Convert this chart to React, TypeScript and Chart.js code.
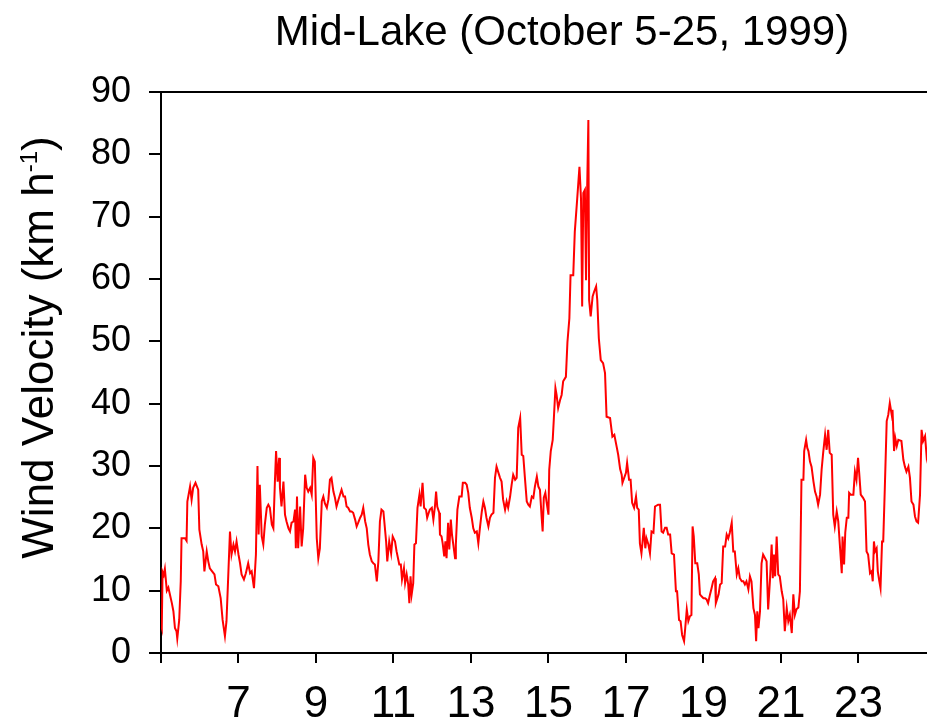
import React, { useEffect, useRef } from "react";
import { Chart, registerables } from "chart.js";

Chart.register(...registerables);

const chartTitle = "Mid-Lake (October 5-25, 1999)";
const yAxisLabelMain = "Wind Velocity (km h";
const yAxisLabelSup = "-1";
const yAxisLabelEnd = ")";

const xMin = 5;
const xMax = 24.77;
const xTickValues = [5, 7, 9, 11, 13, 15, 17, 19, 21, 23];
const xTickLabels = ["", "7", "9", "11", "13", "15", "17", "19", "21", "23"];
const yMin = 0;
const yMax = 90;
const yStep = 10;

// [day of October, wind velocity km/h]
const windSeries: [number, number][] = [
  [5.00, 4.5], [5.02, 4], [5.04, 13], [5.07, 12.5], [5.10, 13.5], [5.15, 10], [5.19, 10.5], [5.23, 9.4], [5.28, 8], [5.32, 6.7],
  [5.36, 4], [5.40, 3.5], [5.42, 2.3], [5.47, 5.3], [5.51, 11.5], [5.53, 18.4], [5.62, 18.4], [5.66, 18], [5.68, 24.3], [5.75, 26.7],
  [5.79, 24.6], [5.83, 26.5], [5.89, 27.3], [5.96, 26.2], [5.99, 19.8], [6.05, 17.4], [6.09, 16.3], [6.12, 13.1], [6.18, 16.3], [6.22, 14.7],
  [6.26, 13.6], [6.32, 13.1], [6.38, 12.6], [6.42, 11], [6.48, 10.7], [6.54, 8.8], [6.59, 5.3], [6.65, 2.7], [6.69, 5.1], [6.74, 13.1],
  [6.78, 19.5], [6.82, 15.8], [6.87, 17.4], [6.91, 16.3], [6.95, 17.9], [7.00, 15.8], [7.04, 14.4], [7.08, 12.6], [7.14, 11.8], [7.19, 12.8],
  [7.25, 14.4], [7.30, 12.8], [7.34, 13.1], [7.40, 10.4], [7.45, 15.8], [7.49, 30], [7.52, 19], [7.55, 27], [7.60, 18.7], [7.64, 17.4],
  [7.68, 20.6], [7.73, 23.3], [7.77, 23.8], [7.81, 23.3], [7.86, 20.6], [7.90, 20], [7.94, 27.5], [7.97, 32.4], [8.01, 27.5], [8.05, 31.3],
  [8.07, 26.5], [8.11, 23.5], [8.16, 27.5], [8.20, 22.2], [8.24, 21.1], [8.29, 20], [8.33, 19.5], [8.37, 20.9], [8.42, 21.1], [8.46, 23],
  [8.48, 16.8], [8.51, 25.1], [8.54, 16.8], [8.59, 23.5], [8.63, 17.1], [8.67, 20], [8.72, 28.6], [8.76, 26.5], [8.80, 25.9], [8.85, 26.5],
  [8.89, 25.4], [8.93, 31.3], [8.97, 30.7], [9.02, 18.4], [9.06, 15.2], [9.10, 16.8], [9.15, 24.3], [9.19, 25.1], [9.23, 24], [9.28, 23.3],
  [9.32, 24.6], [9.36, 27.8], [9.40, 28.1], [9.45, 25.9], [9.49, 24.9], [9.53, 23.5], [9.58, 24.6], [9.62, 25.4], [9.66, 26.2], [9.71, 25.1],
  [9.75, 25.1], [9.79, 23.5], [9.83, 23.3], [9.88, 22.7], [9.92, 22.7], [9.96, 22.5], [10.01, 21.4], [10.05, 20.3], [10.09, 20.9], [10.14, 21.7],
  [10.18, 22.2], [10.22, 23.3], [10.27, 21.1], [10.31, 20], [10.35, 17.4], [10.39, 15.8], [10.44, 14.7], [10.48, 14.4], [10.52, 14.2], [10.57, 11.5],
  [10.61, 14.7], [10.65, 21.1], [10.69, 23], [10.74, 22.7], [10.81, 17.9], [10.84, 14.7], [10.89, 17.9], [10.94, 16], [10.98, 18.7], [11.04, 17.9],
  [11.08, 16.3], [11.15, 14.2], [11.19, 14.2], [11.22, 11.8], [11.27, 13.6], [11.30, 11.2], [11.34, 12.6], [11.38, 11], [11.41, 8], [11.44, 12.3],
  [11.47, 9.4], [11.51, 11.2], [11.54, 17.4], [11.58, 17.6], [11.62, 23.3], [11.67, 25.4], [11.70, 23.5], [11.75, 27.3], [11.79, 23.3], [11.84, 23],
  [11.87, 21.7], [11.91, 22.5], [11.94, 23], [11.99, 23.3], [12.03, 21.4], [12.07, 23.5], [12.10, 25.9], [12.13, 23.5], [12.18, 22.5], [12.20, 19],
  [12.24, 18.7], [12.27, 17.6], [12.31, 15.5], [12.34, 17.9], [12.37, 15.2], [12.41, 20.9], [12.44, 16.6], [12.48, 21.4], [12.51, 19], [12.54, 17.6],
  [12.59, 15.2], [12.61, 17.4], [12.65, 23], [12.70, 25.1], [12.76, 25.1], [12.79, 27.3], [12.85, 27.3], [12.89, 27], [12.93, 25.7], [12.97, 23.3],
  [13.02, 21.7], [13.06, 20], [13.10, 19.3], [13.15, 19.5], [13.19, 17.6], [13.23, 20], [13.28, 22.7], [13.32, 24.3], [13.36, 23.3], [13.40, 21.7],
  [13.45, 20.3], [13.49, 21.7], [13.53, 22.2], [13.58, 22.5], [13.62, 28.1], [13.66, 29.9], [13.71, 28.9], [13.75, 28.1], [13.79, 27.5], [13.83, 24.6],
  [13.88, 23], [13.92, 24.3], [13.96, 23.3], [14.01, 25.1], [14.05, 27], [14.09, 28.6], [14.14, 27.8], [14.18, 28.1], [14.22, 36.1], [14.27, 37.7],
  [14.31, 31.8], [14.35, 31.6], [14.39, 28.3], [14.44, 24.3], [14.48, 23.8], [14.52, 23.5], [14.57, 25.1], [14.61, 24.9], [14.65, 26.7], [14.70, 28.3],
  [14.74, 26.7], [14.78, 26.2], [14.82, 22.2], [14.85, 19.5], [14.88, 24.9], [14.92, 25.7], [14.95, 24.3], [15.00, 22.2], [15.02, 29.4], [15.06, 32.4],
  [15.11, 34.2], [15.14, 37.7], [15.18, 42.5], [15.21, 41.4], [15.25, 39.3], [15.30, 40.6], [15.34, 41.4], [15.38, 43.6], [15.45, 44.3], [15.49, 49.9],
  [15.54, 53.7], [15.57, 60.6], [15.64, 60.6], [15.68, 67.6], [15.74, 72.7], [15.80, 78], [15.84, 72.9], [15.87, 55.6], [15.90, 73.8], [15.94, 74.3],
  [15.97, 59.8], [16.00, 74.8], [16.03, 85.5], [16.05, 56.6], [16.09, 54], [16.14, 57.2], [16.18, 58], [16.23, 58.8], [16.26, 56.6], [16.30, 50.5],
  [16.35, 47], [16.41, 46.5], [16.46, 44.9], [16.50, 37.9], [16.59, 37.7], [16.65, 34.7], [16.70, 35], [16.76, 33.1], [16.80, 31.8], [16.85, 29.5],
  [16.89, 28.6], [16.91, 27.3], [17.00, 28.9], [17.03, 30.5], [17.08, 27.8], [17.12, 27.8], [17.16, 24.1], [17.21, 23.3], [17.26, 25.1], [17.29, 23.3],
  [17.33, 23], [17.36, 17.6], [17.40, 16], [17.43, 17.9], [17.46, 20.1], [17.50, 16.8], [17.53, 18.4], [17.58, 17.4], [17.62, 16], [17.66, 19.5],
  [17.71, 19.3], [17.75, 23.5], [17.83, 23.8], [17.88, 23.8], [17.92, 19.5], [17.96, 19.3], [18.01, 20.1], [18.05, 20.1], [18.09, 19], [18.14, 19],
  [18.18, 16], [18.24, 15.8], [18.29, 9.9], [18.32, 9.9], [18.37, 5.3], [18.41, 5.1], [18.45, 2.9], [18.50, 1.9], [18.53, 4], [18.57, 7],
  [18.61, 5.1], [18.65, 5.9], [18.69, 6.1], [18.72, 20.3], [18.75, 18.7], [18.79, 14.4], [18.84, 14.4], [18.88, 12.6], [18.91, 9.4], [18.95, 9.1],
  [19.00, 8.8], [19.04, 8.8], [19.08, 8.6], [19.12, 8], [19.17, 9.4], [19.21, 10.4], [19.25, 11.5], [19.30, 12], [19.32, 8], [19.36, 8.8],
  [19.39, 9.4], [19.43, 11], [19.47, 11.2], [19.51, 17.1], [19.56, 17.1], [19.60, 19], [19.64, 18.4], [19.68, 19.3], [19.73, 20.9], [19.77, 16.3],
  [19.81, 16.3], [19.86, 12.6], [19.90, 13.6], [19.94, 12], [19.99, 11.5], [20.03, 11.5], [20.07, 11], [20.11, 11.5], [20.16, 10.2], [20.20, 12.3],
  [20.24, 11.5], [20.29, 7.2], [20.33, 6.1], [20.36, 1.9], [20.39, 6.7], [20.42, 4], [20.46, 6.7], [20.50, 14.4], [20.54, 15.8], [20.59, 15.2],
  [20.63, 14.7], [20.67, 7], [20.72, 12], [20.76, 17.4], [20.79, 12], [20.82, 15.8], [20.85, 12.3], [20.89, 18.7], [20.93, 12.6], [20.97, 12.3],
  [21.02, 9.9], [21.06, 8.6], [21.10, 3.5], [21.15, 7.2], [21.19, 5.1], [21.23, 6.1], [21.28, 3.2], [21.32, 9.4], [21.36, 6.1], [21.40, 7],
  [21.45, 7.3], [21.49, 9.9], [21.53, 27.8], [21.58, 27.8], [21.60, 32.4], [21.65, 34.2], [21.68, 32.9], [21.71, 32.4], [21.75, 30.7], [21.79, 29.9],
  [21.84, 27.5], [21.88, 25.9], [21.92, 25.1], [21.96, 23.8], [22.01, 25.4], [22.05, 29.4], [22.09, 32.1], [22.14, 35], [22.18, 32.6], [22.22, 35.8],
  [22.26, 32.1], [22.31, 31.8], [22.35, 22.2], [22.39, 20.3], [22.44, 22.7], [22.48, 21.1], [22.52, 17.4], [22.57, 12.8], [22.59, 18.7], [22.63, 14.2],
  [22.66, 19.3], [22.70, 21.7], [22.74, 21.7], [22.76, 25.7], [22.80, 25.4], [22.87, 25.4], [22.91, 29.1], [22.95, 27.8], [22.99, 31.3], [23.02, 28.9],
  [23.06, 25.4], [23.12, 24.9], [23.17, 24.3], [23.21, 16.3], [23.25, 15.8], [23.30, 12.8], [23.34, 13.1], [23.37, 11.5], [23.40, 17.9], [23.43, 16.3],
  [23.47, 16.8], [23.50, 13.1], [23.54, 11.5], [23.57, 10.4], [23.61, 17.9], [23.64, 17.9], [23.68, 26.2], [23.73, 37.2], [23.77, 38.2], [23.81, 40.1],
  [23.86, 38.2], [23.88, 39], [23.92, 32.4], [23.95, 34.5], [23.99, 33.2], [24.03, 34.2], [24.11, 34], [24.16, 31], [24.20, 29.9], [24.24, 29.1],
  [24.29, 29.9], [24.33, 28.1], [24.37, 24.3], [24.42, 23.8], [24.46, 21.9], [24.50, 21.1], [24.54, 20.9], [24.59, 25.4], [24.63, 35.8], [24.67, 34],
  [24.72, 34.8], [24.76, 31.6], [24.80, 33],
];

const FONT = '"Liberation Sans", Arial, sans-serif';

export default function App() {
  const canvasRef = useRef<HTMLCanvasElement>(null);

  useEffect(() => {
    const canvas = canvasRef.current;
    if (!canvas) return;

    const decorPlugin = {
      id: "decor",
      afterDraw(chart: any) {
        const { ctx, chartArea } = chart;
        ctx.save();
        // top frame line
        ctx.strokeStyle = "#000";
        ctx.lineWidth = 2;
        ctx.beginPath();
        ctx.moveTo(chartArea.left, chartArea.top);
        ctx.lineTo(chartArea.right, chartArea.top);
        ctx.stroke();
        // title
        ctx.fillStyle = "#000";
        ctx.font = `42px ${FONT}`;
        ctx.textAlign = "center";
        ctx.textBaseline = "alphabetic";
        ctx.fillText(chartTitle, 562, 45);
        // y-axis label with superscript
        ctx.translate(53, 347.5);
        ctx.rotate(-Math.PI / 2);
        const mainFont = `44px ${FONT}`;
        const supFont = `24px ${FONT}`;
        ctx.font = mainFont;
        const w1 = ctx.measureText(yAxisLabelMain).width;
        const w3 = ctx.measureText(yAxisLabelEnd).width;
        ctx.font = supFont;
        const w2 = ctx.measureText(yAxisLabelSup).width;
        let x = -(w1 + w2 + w3) / 2;
        ctx.textAlign = "left";
        ctx.font = mainFont;
        ctx.fillText(yAxisLabelMain, x, 0);
        x += w1;
        ctx.font = supFont;
        ctx.fillText(yAxisLabelSup, x, -16);
        x += w2;
        ctx.font = mainFont;
        ctx.fillText(yAxisLabelEnd, x, 0);
        ctx.restore();
      },
    };

    const chart = new Chart(canvas, {
      type: "line",
      data: {
        datasets: [
          {
            label: "Wind Velocity",
            data: windSeries.map(([d, v]) => ({ x: d, y: v })),
            borderColor: "#ff0000",
            borderWidth: 2,
            pointRadius: 0,
            tension: 0,
            fill: false,
          },
        ],
      },
      options: {
        responsive: false,
        animation: false,
        devicePixelRatio: 1,
        layout: { padding: { top: 92, left: 0, right: 0, bottom: 0 } },
        plugins: {
          legend: { display: false },
          tooltip: { enabled: false },
          title: { display: false },
        },
        scales: {
          x: {
            type: "linear",
            min: xMin,
            max: xMax,
            afterBuildTicks: (s: any) => {
              s.ticks = xTickValues.map((v) => ({ value: v }));
            },
            afterFit: (s: any) => {
              s.height = 74;
              s.paddingLeft = 0;
              s.paddingRight = 0;
            },
            ticks: {
              callback: (_v: any, i: number) => xTickLabels[i],
              font: { family: FONT, size: 44 },
              color: "#000",
              padding: 15,
              maxRotation: 0,
              autoSkip: false,
            },
            grid: {
              drawOnChartArea: false,
              drawTicks: true,
              tickLength: 10,
              color: "#000",
              lineWidth: 2,
            },
            border: { display: true, color: "#000", width: 2 },
          },
          y: {
            min: yMin,
            max: yMax,
            afterFit: (s: any) => {
              s.width = 161;
              s.paddingTop = 0;
              s.paddingBottom = 0;
            },
            ticks: {
              stepSize: yStep,
              font: { family: FONT, size: 36 },
              color: "#000",
              padding: 18,
            },
            grid: {
              drawOnChartArea: false,
              drawTicks: true,
              tickLength: 12,
              color: "#000",
              lineWidth: 2,
            },
            border: { display: true, color: "#000", width: 2 },
          },
        },
      },
      plugins: [decorPlugin],
    } as any);

    return () => chart.destroy();
  }, []);

  return (
    <div
      style={{
        position: "absolute",
        left: 0,
        top: 0,
        width: 927,
        height: 727,
        overflow: "hidden",
        background: "#fff",
      }}
    >
      <canvas ref={canvasRef} width={927} height={727} style={{ display: "block" }} />
    </div>
  );
}
